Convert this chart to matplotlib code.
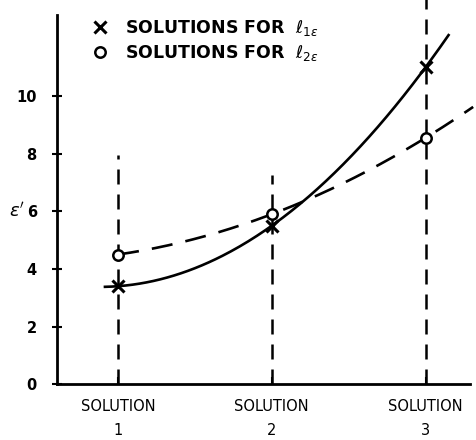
import matplotlib.pyplot as plt
import numpy as np

# data
solutions = ['SOLUTION\n1', 'SOLUTION\n2', 'SOLUTION\n3']
eps_l1 = [3.4, 5.5, 11.0]     # x markers, solid curve
eps_l2 = [4.5, 5.9, 8.55]     # o markers, dashed curve
guide_top = [7.95, 7.25, 13.5]  # tops of the vertical dashed guides


def main():
    fig = plt.figure(figsize=(4.77, 4.40), dpi=100)
    ax = fig.add_axes([0.1195, 0.127, 0.866, 0.864])

    xs = np.arange(1, len(solutions) + 1)

    # vertical dashed guides at each solution
    for x, top in zip(xs, guide_top):
        ax.plot([x, x], [0, top], color='black', lw=1.8, ls=(0, (6, 4)),
                clip_on=False)

    # smooth curves through the points (quadratic fit)
    c1 = np.polyfit(xs, eps_l1, 2)
    t1 = np.linspace(0.915, 3.15, 200)
    ax.plot(t1, np.polyval(c1, t1), color='black', lw=1.9)

    c2 = np.polyfit(xs, eps_l2, 2)
    t2 = np.linspace(1.0, 3.31, 200)
    ax.plot(t2, np.polyval(c2, t2), color='black', lw=1.9, ls=(0, (8, 5)),
            clip_on=False)

    p1, = ax.plot(xs, eps_l1, 'x', color='black', ms=8, mew=2.2, ls='none')
    p2, = ax.plot(xs, eps_l2, 'o', color='black', mfc='white', ms=7.5, mew=1.8,
                  ls='none', zorder=5)

    ax.set_xlim(0.603, 3.29)
    ax.set_ylim(0, 13.2)
    ax.spines['top'].set_visible(False)
    ax.spines['right'].set_visible(False)
    ax.spines['left'].set_bounds(0, 12.8)
    ax.spines['left'].set_linewidth(2)
    ax.spines['bottom'].set_linewidth(2)

    ax.set_yticks(np.arange(0, 11, 2))
    ax.tick_params(axis='y', direction='inout', length=7, width=1.5,
                   labelsize=10.5, pad=11)
    for lbl in ax.get_yticklabels():
        lbl.set_fontweight('bold')
    ax.set_xticks(xs)
    ax.set_xticklabels(solutions, fontsize=10.5, linespacing=1.75)
    ax.tick_params(axis='x', direction='in', length=5, width=1.5, pad=11)

    ax.set_ylabel(r"$\epsilon'$", rotation=0, fontsize=13)
    ax.yaxis.set_label_coords(-0.097, 0.43)

    leg = ax.legend([p1, p2],
                    [r'SOLUTIONS FOR  $\ell_{1\epsilon}$',
                     r'SOLUTIONS FOR  $\ell_{2\epsilon}$'],
                    loc='upper left', bbox_to_anchor=(0.05, 1.005),
                    frameon=False, handlelength=0.8, handletextpad=1.0,
                    fontsize=12.5, labelspacing=0.3)
    for t in leg.get_texts():
        t.set_fontweight('bold')

    plt.savefig('out.png', dpi=100)
    plt.close()


if __name__ == '__main__':
    main()
